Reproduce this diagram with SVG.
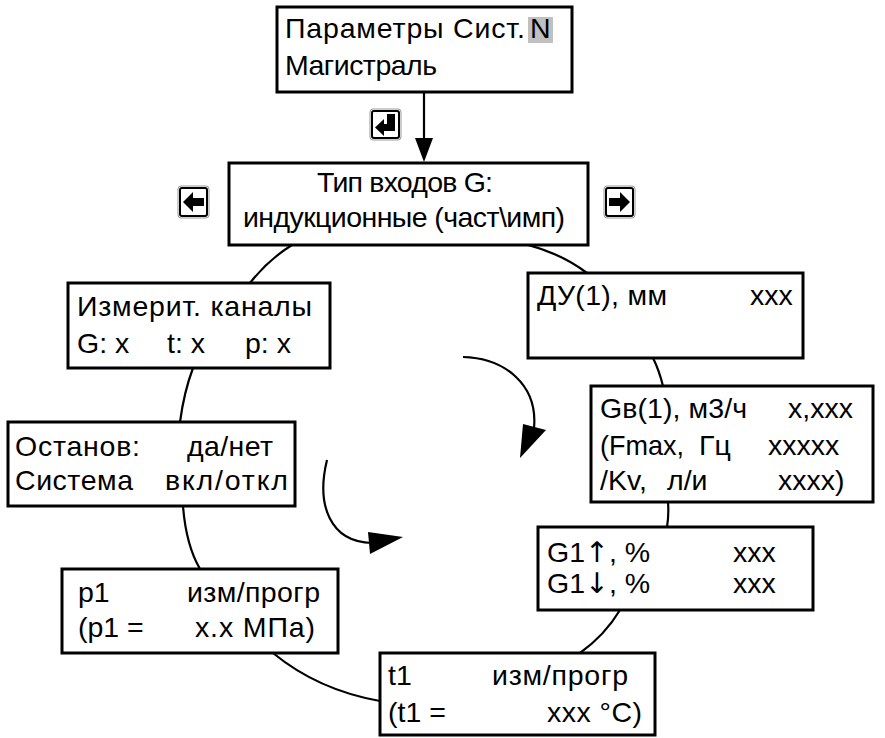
<svg xmlns="http://www.w3.org/2000/svg" width="885" height="738" viewBox="0 0 885 738">
<style>
.box{fill:#fff;stroke:#000;stroke-width:3}
.t{font-family:"Liberation Sans",Arial,sans-serif;font-size:28.5px;fill:#000}
.a{font-family:"DejaVu Sans",sans-serif;fill:#000}
.c{fill:none;stroke:#000;stroke-width:2.2}
.ico{fill:#fff;stroke:#000;stroke-width:2}
.icoo{fill:none;stroke:#999;stroke-width:1}
</style>
<rect width="885" height="738" fill="#fff"/>
<g id="connectors">
<line x1="424" y1="92" x2="424" y2="140" class="c"/>
<polygon points="415,138 433,138 424,162" fill="#000"/>
<path class="c" d="M292,245 Q268,260 250,283"/>
<path class="c" d="M528,245 Q562,254 587,273"/>
<path class="c" d="M193,368 Q184,392 180,422"/>
<path class="c" d="M183,506 Q186,545 200,569"/>
<path class="c" d="M273,653 Q318,690 380,701"/>
<path class="c" d="M580,653 Q605,635 620,610"/>
<path class="c" d="M667,527 Q669,515 668,502"/>
<path class="c" d="M663,386 Q659,370 653,358"/>
<path class="c" d="M463,357 C505,358 538,385 534,428"/>
<polygon points="523,424 546,430 520,458" fill="#000"/>
<path class="c" d="M327,460 C316,505 330,542 372,543"/>
<polygon points="368,532 370,554 403,537" fill="#000"/>
</g>
<g id="icon-enter">
<rect x="370" y="109" width="31" height="31" rx="3" class="icoo"/>
<rect x="372" y="111" width="27" height="27" rx="2" class="ico"/>
<path d="M387,114 h8 v17 h-11 v5 l-9,-8.5 l9,-8.5 v5 h3 z" fill="#000"/>
</g>
<g id="icon-left">
<rect x="178" y="186" width="31" height="32" rx="3" class="icoo"/>
<rect x="180" y="188" width="27" height="28" rx="2" class="ico"/>
<path d="M183,202 l10,-10 v6 h11 v8 h-11 v6 z" fill="#000"/>
</g>
<g id="icon-right">
<rect x="604" y="186" width="31" height="32" rx="3" class="icoo"/>
<rect x="606" y="188" width="27" height="28" rx="2" class="ico"/>
<path d="M630,202 l-10,-10 v6 h-11 v8 h11 v6 z" fill="#000"/>
</g>
<g id="node-params">
<rect x="277" y="7" width="295" height="85" class="box"/>
<rect x="528" y="17" width="25" height="26" fill="#c0c0c0"/>
<text class="t" x="285" y="38" textLength="240" lengthAdjust="spacing">Параметры Сист.</text>
<text class="t" x="530" y="38">N</text>
<text class="t" x="285" y="75" textLength="152" lengthAdjust="spacing">Магистраль</text>
</g>
<g id="node-type">
<rect x="229" y="163" width="359" height="82" class="box"/>
<text class="t" x="317" y="192" textLength="176" lengthAdjust="spacing">Тип входов G:</text>
<text class="t" x="243" y="227" textLength="322" lengthAdjust="spacing">индукционные (част\имп)</text>
</g>
<g id="node-channels">
<rect x="68" y="283" width="262" height="85" class="box"/>
<text class="t" x="77" y="316" textLength="235" lengthAdjust="spacing">Измерит. каналы</text>
<text class="t" x="77" y="353">G: x</text>
<text class="t" x="167" y="353">t: x</text>
<text class="t" x="245" y="353">p: x</text>
</g>
<g id="node-stop">
<rect x="8" y="422" width="287" height="84" class="box"/>
<text class="t" x="15" y="456" textLength="125" lengthAdjust="spacing">Останов:</text>
<text class="t" x="187" y="456" textLength="86" lengthAdjust="spacing">да/нет</text>
<text class="t" x="15" y="490" textLength="118" lengthAdjust="spacing">Система</text>
<text class="t" x="165" y="490" textLength="123" lengthAdjust="spacing">вкл/откл</text>
</g>
<g id="node-p1">
<rect x="62" y="569" width="276" height="84" class="box"/>
<text class="t" x="78" y="602">p1</text>
<text class="t" x="187" y="602" textLength="133" lengthAdjust="spacing">изм/прогр</text>
<text class="t" x="78" y="637">(p1 =</text>
<text class="t" x="195" y="637" textLength="120" lengthAdjust="spacing">x.x МПа)</text>
</g>
<g id="node-du">
<rect x="528" y="273" width="275" height="85" class="box"/>
<text class="t" x="537" y="305" textLength="130" lengthAdjust="spacing">ДУ(1), мм</text>
<text class="t" x="750" y="305">xxx</text>
</g>
<g id="node-gv">
<rect x="591" y="386" width="282" height="116" class="box"/>
<text class="t" x="600" y="418" textLength="147" lengthAdjust="spacing">Gв(1), м3/ч</text>
<text class="t" x="788" y="418">x,xxx</text>
<text class="t" x="600" y="455" textLength="84" lengthAdjust="spacingAndGlyphs">(Fmax,</text>
<text class="t" x="699" y="455">Гц</text>
<text class="t" x="768" y="455">xxxxx</text>
<text class="t" x="600" y="490">/Kv,</text>
<text class="t" x="667" y="490">л/и</text>
<text class="t" x="778" y="490">xxxx)</text>
</g>
<g id="node-g1">
<rect x="538" y="527" width="275" height="83" class="box"/>
<text class="t" x="547" y="562">G1<tspan class="a">↑</tspan>, %</text>
<text class="t" x="733" y="562">xxx</text>
<text class="t" x="547" y="593">G1<tspan class="a">↓</tspan>, %</text>
<text class="t" x="733" y="593">xxx</text>
</g>
<g id="node-t1">
<rect x="380" y="653" width="275" height="82" class="box"/>
<text class="t" x="388" y="685">t1</text>
<text class="t" x="492" y="685" textLength="136" lengthAdjust="spacing">изм/прогр</text>
<text class="t" x="388" y="722">(t1 =</text>
<text class="t" x="547" y="722" textLength="95" lengthAdjust="spacing">xxx °C)</text>
</g>
</svg>
